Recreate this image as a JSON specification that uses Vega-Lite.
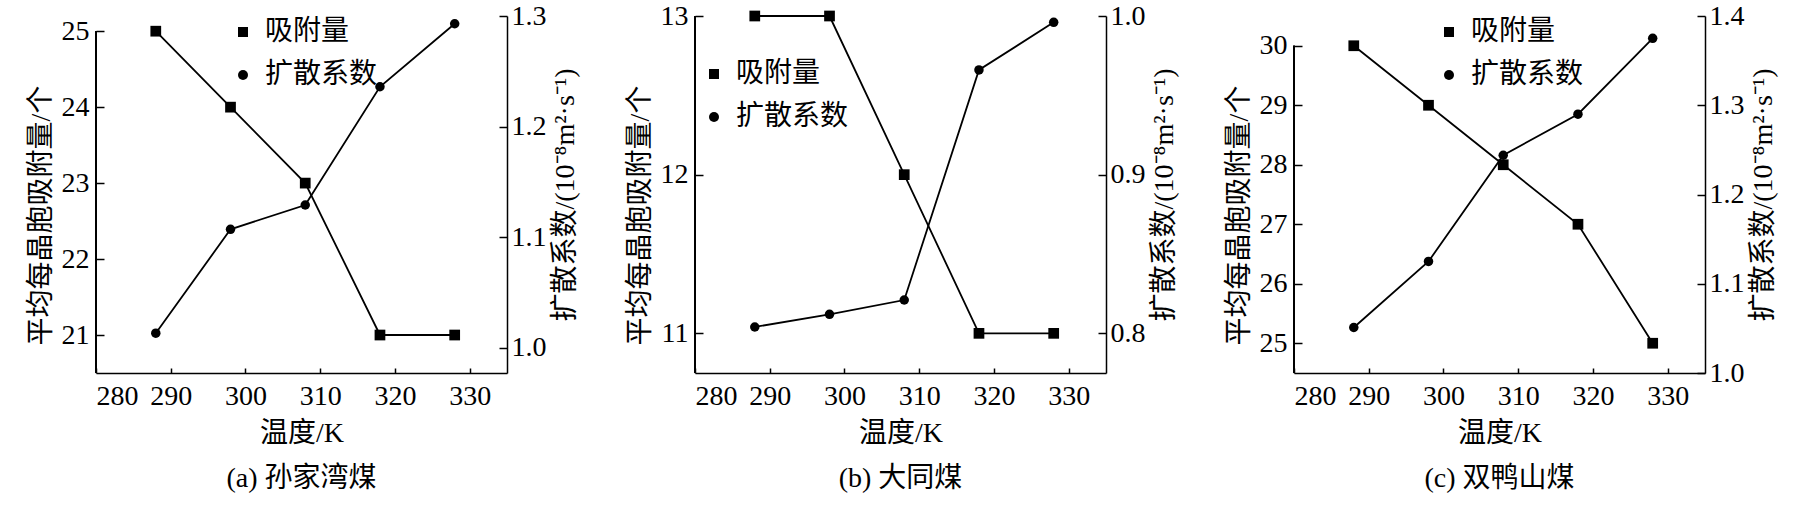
{
  "$schema": "https://vega.github.io/schema/vega-lite/v6.json",
  "background": "white",
  "padding": {"left": 27, "top": 2, "right": 5, "bottom": 5},
  "spacing": 188,
  "bounds": "flush",
  "datasets": {
    "d": [
      {"panel": "a", "T": 288, "series": "吸附量", "value": 25},
      {"panel": "a", "T": 298, "series": "吸附量", "value": 24},
      {"panel": "a", "T": 308, "series": "吸附量", "value": 23},
      {"panel": "a", "T": 318, "series": "吸附量", "value": 21},
      {"panel": "a", "T": 328, "series": "吸附量", "value": 21},
      {"panel": "a", "T": 288, "series": "扩散系数", "value": 1.013},
      {"panel": "a", "T": 298, "series": "扩散系数", "value": 1.107},
      {"panel": "a", "T": 308, "series": "扩散系数", "value": 1.129},
      {"panel": "a", "T": 318, "series": "扩散系数", "value": 1.236},
      {"panel": "a", "T": 328, "series": "扩散系数", "value": 1.293},
      {"panel": "b", "T": 288, "series": "吸附量", "value": 13},
      {"panel": "b", "T": 298, "series": "吸附量", "value": 13},
      {"panel": "b", "T": 308, "series": "吸附量", "value": 12},
      {"panel": "b", "T": 318, "series": "吸附量", "value": 11},
      {"panel": "b", "T": 328, "series": "吸附量", "value": 11},
      {"panel": "b", "T": 288, "series": "扩散系数", "value": 0.804},
      {"panel": "b", "T": 298, "series": "扩散系数", "value": 0.812},
      {"panel": "b", "T": 308, "series": "扩散系数", "value": 0.821},
      {"panel": "b", "T": 318, "series": "扩散系数", "value": 0.966},
      {"panel": "b", "T": 328, "series": "扩散系数", "value": 0.996},
      {"panel": "c", "T": 288, "series": "吸附量", "value": 30},
      {"panel": "c", "T": 298, "series": "吸附量", "value": 29},
      {"panel": "c", "T": 308, "series": "吸附量", "value": 28},
      {"panel": "c", "T": 318, "series": "吸附量", "value": 27},
      {"panel": "c", "T": 328, "series": "吸附量", "value": 25},
      {"panel": "c", "T": 288, "series": "扩散系数", "value": 1.051},
      {"panel": "c", "T": 298, "series": "扩散系数", "value": 1.125},
      {"panel": "c", "T": 308, "series": "扩散系数", "value": 1.244},
      {"panel": "c", "T": 318, "series": "扩散系数", "value": 1.290},
      {"panel": "c", "T": 328, "series": "扩散系数", "value": 1.375}
    ]
  },
  "data": {"name": "d"},
  "resolve": {"scale": {"shape": "independent"}, "legend": {"shape": "independent"}},
  "hconcat": [
    {
      "width": 411, "height": 357,
      "title": {"text": "(a)  孙家湾煤", "orient": "bottom"},
      "transform": [{"filter": "datum.panel == 'a'"}],
      "layer": [
        {
          "transform": [{"filter": "datum.series == '吸附量'"}],
          "encoding": {
            "x": {"field": "T", "type": "quantitative", "scale": {"domain": [280, 335], "nice": false, "zero": false}, "axis": {"values": [280, 290, 300, 310, 320, 330], "title": "温度/K"}},
            "y": {"field": "value", "type": "quantitative", "scale": {"domain": [20.5, 25.2], "nice": false, "zero": false}, "axis": {"orient": "left", "values": [21, 22, 23, 24, 25], "format": "d", "domain": false, "title": "平均每晶胞吸附量/个"}}
          },
          "layer": [
            {"mark": {"type": "line", "color": "black", "strokeWidth": 1.8}},
            {"mark": {"type": "point", "filled": true, "color": "black", "size": 115, "opacity": 1},
             "encoding": {"shape": {"field": "series", "type": "nominal", "scale": {"domain": ["吸附量", "扩散系数"], "range": ["square", "circle"]}, "legend": {"orient": "none", "legendX": 133, "legendY": 2}}}},
            {"mark": {"type": "rule", "color": "black", "strokeWidth": 1.5},
             "encoding": {"x": {"datum": 280, "type": "quantitative", "title": "温度/K"}, "y": {"datum": 20.5, "type": "quantitative", "title": "平均每晶胞吸附量/个"}, "y2": {"datum": 25}}}
          ]
        },
        {
          "transform": [{"filter": "datum.series == '扩散系数'"}],
          "encoding": {
            "x": {"field": "T", "type": "quantitative", "scale": {"domain": [280, 335], "nice": false, "zero": false}, "axis": {"values": [280, 290, 300, 310, 320, 330], "title": "温度/K"}},
            "y": {"field": "value", "type": "quantitative", "scale": {"domain": [0.977, 1.3], "nice": false, "zero": false}, "axis": {"orient": "right", "values": [1.0, 1.1, 1.2, 1.3], "format": ".1f", "title": "扩散系数/(10⁻⁸m²·s⁻¹)", "titleAngle": -90, "titleBaseline": "top"}}
          },
          "layer": [
            {"mark": {"type": "line", "color": "black", "strokeWidth": 1.8}},
            {"mark": {"type": "point", "filled": true, "color": "black", "size": 90, "opacity": 1},
             "encoding": {"shape": {"field": "series", "type": "nominal", "scale": {"domain": ["吸附量", "扩散系数"], "range": ["square", "circle"]}, "legend": {"orient": "none", "legendX": 133, "legendY": 2}}}}
          ]
        }
      ],
      "resolve": {"scale": {"y": "independent"}}
    },
    {
      "width": 411, "height": 357,
      "title": {"text": "(b)  大同煤", "orient": "bottom"},
      "transform": [{"filter": "datum.panel == 'b'"}],
      "layer": [
        {
          "transform": [{"filter": "datum.series == '吸附量'"}],
          "encoding": {
            "x": {"field": "T", "type": "quantitative", "scale": {"domain": [280, 335], "nice": false, "zero": false}, "axis": {"values": [280, 290, 300, 310, 320, 330], "title": "温度/K"}},
            "y": {"field": "value", "type": "quantitative", "scale": {"domain": [10.75, 13], "nice": false, "zero": false}, "axis": {"orient": "left", "values": [11, 12, 13], "format": "d", "domain": false, "title": "平均每晶胞吸附量/个"}}
          },
          "layer": [
            {"mark": {"type": "line", "color": "black", "strokeWidth": 1.8}},
            {"mark": {"type": "point", "filled": true, "color": "black", "size": 115, "opacity": 1},
             "encoding": {"shape": {"field": "series", "type": "nominal", "scale": {"domain": ["吸附量", "扩散系数"], "range": ["square", "circle"]}, "legend": {"orient": "none", "legendX": 5, "legendY": 44}}}},
            {"mark": {"type": "rule", "color": "black", "strokeWidth": 1.5},
             "encoding": {"x": {"datum": 280, "type": "quantitative", "title": "温度/K"}, "y": {"datum": 10.75, "type": "quantitative", "title": "平均每晶胞吸附量/个"}, "y2": {"datum": 13}}}
          ]
        },
        {
          "transform": [{"filter": "datum.series == '扩散系数'"}],
          "encoding": {
            "x": {"field": "T", "type": "quantitative", "scale": {"domain": [280, 335], "nice": false, "zero": false}, "axis": {"values": [280, 290, 300, 310, 320, 330], "title": "温度/K"}},
            "y": {"field": "value", "type": "quantitative", "scale": {"domain": [0.775, 1.0], "nice": false, "zero": false}, "axis": {"orient": "right", "values": [0.8, 0.9, 1.0], "format": ".1f", "title": "扩散系数/(10⁻⁸m²·s⁻¹)", "titleAngle": -90, "titleBaseline": "top"}}
          },
          "layer": [
            {"mark": {"type": "line", "color": "black", "strokeWidth": 1.8}},
            {"mark": {"type": "point", "filled": true, "color": "black", "size": 90, "opacity": 1},
             "encoding": {"shape": {"field": "series", "type": "nominal", "scale": {"domain": ["吸附量", "扩散系数"], "range": ["square", "circle"]}, "legend": {"orient": "none", "legendX": 5, "legendY": 44}}}}
          ]
        }
      ],
      "resolve": {"scale": {"y": "independent"}}
    },
    {
      "width": 411, "height": 357,
      "title": {"text": "(c)  双鸭山煤", "orient": "bottom"},
      "transform": [{"filter": "datum.panel == 'c'"}],
      "layer": [
        {
          "transform": [{"filter": "datum.series == '吸附量'"}],
          "encoding": {
            "x": {"field": "T", "type": "quantitative", "scale": {"domain": [280, 335], "nice": false, "zero": false}, "axis": {"values": [280, 290, 300, 310, 320, 330], "title": "温度/K"}},
            "y": {"field": "value", "type": "quantitative", "scale": {"domain": [24.5, 30.5], "nice": false, "zero": false}, "axis": {"orient": "left", "values": [25, 26, 27, 28, 29, 30], "format": "d", "domain": false, "title": "平均每晶胞吸附量/个"}}
          },
          "layer": [
            {"mark": {"type": "line", "color": "black", "strokeWidth": 1.8}},
            {"mark": {"type": "point", "filled": true, "color": "black", "size": 115, "opacity": 1},
             "encoding": {"shape": {"field": "series", "type": "nominal", "scale": {"domain": ["吸附量", "扩散系数"], "range": ["square", "circle"]}, "legend": {"orient": "none", "legendX": 141, "legendY": 2}}}},
            {"mark": {"type": "rule", "color": "black", "strokeWidth": 1.5},
             "encoding": {"x": {"datum": 280, "type": "quantitative", "title": "温度/K"}, "y": {"datum": 24.5, "type": "quantitative", "title": "平均每晶胞吸附量/个"}, "y2": {"datum": 30}}}
          ]
        },
        {
          "transform": [{"filter": "datum.series == '扩散系数'"}],
          "encoding": {
            "x": {"field": "T", "type": "quantitative", "scale": {"domain": [280, 335], "nice": false, "zero": false}, "axis": {"values": [280, 290, 300, 310, 320, 330], "title": "温度/K"}},
            "y": {"field": "value", "type": "quantitative", "scale": {"domain": [1.0, 1.4], "nice": false, "zero": false}, "axis": {"orient": "right", "values": [1.0, 1.1, 1.2, 1.3, 1.4], "format": ".1f", "title": "扩散系数/(10⁻⁸m²·s⁻¹)", "titleAngle": -90, "titleBaseline": "top"}}
          },
          "layer": [
            {"mark": {"type": "line", "color": "black", "strokeWidth": 1.8}},
            {"mark": {"type": "point", "filled": true, "color": "black", "size": 90, "opacity": 1},
             "encoding": {"shape": {"field": "series", "type": "nominal", "scale": {"domain": ["吸附量", "扩散系数"], "range": ["square", "circle"]}, "legend": {"orient": "none", "legendX": 141, "legendY": 2}}}}
          ]
        }
      ],
      "resolve": {"scale": {"y": "independent"}}
    }
  ],
  "config": {
    "font": "Liberation Serif, Noto Sans CJK SC",
    "view": {"stroke": null},
    "axis": {
      "grid": false,
      "domainColor": "black", "domainWidth": 1.5,
      "tickColor": "black", "tickWidth": 1.5,
      "labelColor": "black", "titleColor": "black",
      "labelFont": "Liberation Serif, Noto Sans CJK SC",
      "titleFont": "Liberation Serif, Noto Sans CJK SC",
      "labelFontSize": 28, "titleFontSize": 28, "titleFontWeight": "normal"
    },
    "axisX": {"tickSize": -5, "labelPadding": 14, "titlePadding": 9},
    "axisY": {"tickSize": -8, "labelPadding": 15, "titlePadding": 6},
    "axisLeft": {"titleY": 199},
    "axisRight": {"titlePadding": 5, "labelPadding": 12},
    "legend": {
      "title": null,
      "labelFont": "Liberation Serif, Noto Sans CJK SC",
      "labelFontSize": 28, "labelColor": "black",
      "symbolFillColor": "black", "symbolStrokeColor": "black", "symbolStrokeWidth": 0,
      "symbolSize": 100, "labelOffset": 8, "rowPadding": 15
    },
    "title": {"font": "Liberation Serif, Noto Sans CJK SC", "fontSize": 28, "fontWeight": "normal", "color": "black", "offset": 18}
  }
}
